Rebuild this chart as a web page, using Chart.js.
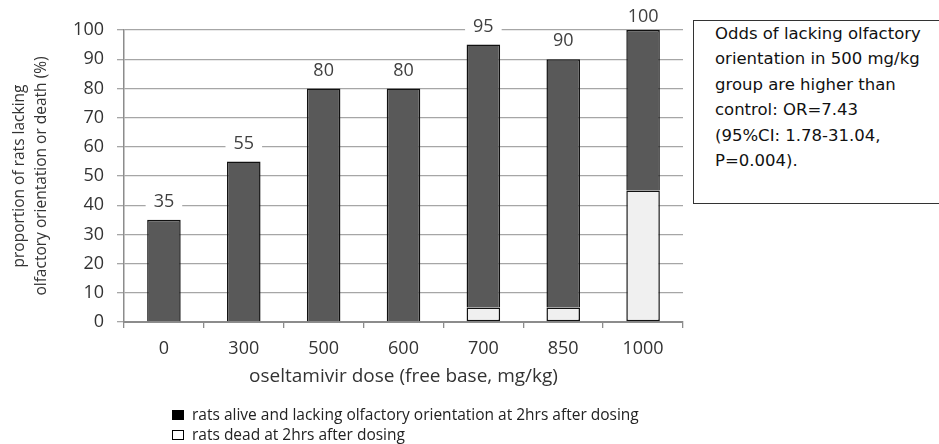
<!DOCTYPE html>
<html>
<head>
<meta charset="utf-8">
<script src="https://cdn.jsdelivr.net/npm/chart.js@4/dist/chart.umd.min.js"></script>
<style>
  body { margin: 0; background: #fff; }
  #wrap { position: relative; width: 939px; height: 444px; overflow: hidden; }
  #note {
    position: absolute; left: 693px; top: 20px; width: 260px; height: 184px;
    border: 1px solid #333; box-sizing: border-box;
    font-family: "DejaVu Sans", sans-serif; font-size: 16.5px; line-height: 25.4px;
    color: #111; padding: 0 0 0 21px; background: #fff;
  }
  #legend {
    position: absolute; left: 172px; top: 404px;
    font-family: "Open Sans", sans-serif; font-size: 15.5px; color: #222; line-height: 20px;
  }
  #legend .sw { display: inline-block; width: 12px; height: 10px; box-sizing: border-box;
    border: 1px solid #000; margin-right: 8px; vertical-align: 0px; }
</style>
</head>
<body>
<div id="wrap">
  <canvas id="chart" width="939" height="444"></canvas>
  <div id="note">Odds of lacking olfactory<br>orientation in 500 mg/kg<br>group are higher than<br>control: OR=7.43<br>(95%CI: 1.78-31.04,<br>P=0.004).</div>
  <div id="legend">
    <div><span class="sw" style="background:#000"></span>rats alive and lacking olfactory orientation at 2hrs after dosing</div>
    <div><span class="sw" style="background:#fff"></span>rats dead at 2hrs after dosing</div>
  </div>
</div>
<script>
const doses = ['0', '300', '500', '600', '700', '850', '1000'];
const deadPct = [0, 0, 0, 0, 5, 5, 45];
const alivePct = [35, 55, 80, 80, 90, 85, 55];
const yTicks = [0, 10, 20, 30, 40, 50, 60, 70, 80, 90, 100];

// totals written above each stack, with a white patch behind the number
const totalLabels = {
  id: 'totalLabels',
  afterDatasetsDraw(chart) {
    const ctx = chart.ctx;
    const topMeta = chart.getDatasetMeta(1);
    ctx.save();
    ctx.font = '18px "Open Sans"';
    ctx.textAlign = 'center';
    ctx.textBaseline = 'middle';
    doses.forEach((d, i) => {
      const total = deadPct[i] + alivePct[i];
      const bar = topMeta.data[i];
      const y = Math.max(bar.y - 18, 17);
      const w = ctx.measureText(String(total)).width + 16;
      ctx.fillStyle = '#fff';
      ctx.fillRect(bar.x - w / 2, y - 9, w, 18);
      ctx.fillStyle = '#404040';
      ctx.fillText(String(total), bar.x, y);
    });
    ctx.restore();
  }
};

new Chart(document.getElementById('chart'), {
  type: 'bar',
  data: {
    labels: doses,
    datasets: [
      {
        label: 'rats dead at 2hrs after dosing',
        data: deadPct,
        backgroundColor: c => (c.raw ? '#f0f0f0' : 'rgba(0,0,0,0)'),
        borderColor: '#111',
        borderWidth: c => (c.raw ? 1.5 : 0),
        borderSkipped: false,
        inflateAmount: 0
      },
      {
        label: 'rats alive and lacking olfactory orientation at 2hrs after dosing',
        data: alivePct,
        backgroundColor: '#595959',
        borderColor: '#111',
        borderWidth: 1.5,
        borderSkipped: 'bottom',
        inflateAmount: 0
      }
    ]
  },
  options: {
    responsive: false,
    animation: false,
    layout: { padding: { top: 30, right: 256, bottom: 0, left: 0 } },
    datasets: { bar: { categoryPercentage: 1, barPercentage: 0.42 } },
    plugins: { legend: { display: false }, tooltip: { enabled: false } },
    scales: {
      x: {
        stacked: true,
        afterFit(scale) { scale.height = 122; },
        grid: { drawOnChartArea: false, drawTicks: true, tickLength: 6, color: '#8c8c8c', lineWidth: 1.3 },
        border: { color: '#8c8c8c', width: 2 },
        ticks: { padding: 10, color: '#333', font: { family: 'Open Sans', size: 18 } },
        title: {
          display: true,
          text: 'oseltamivir dose (free base, mg/kg)',
          color: '#333',
          font: { family: 'Open Sans', size: 19, lineHeight: 1.2 },
          padding: { top: 0, bottom: 56 }
        }
      },
      y: {
        stacked: true,
        min: 0,
        max: 100,
        afterFit(scale) { scale.width = 124; },
        afterBuildTicks(scale) { scale.ticks = yTicks.map(v => ({ value: v })); },
        grid: { color: '#a6a6a6', lineWidth: 1.3, tickLength: 7 },
        border: { color: '#8c8c8c', width: 1.5 },
        ticks: { padding: 13, color: '#333', font: { family: 'Open Sans', size: 18 } },
        title: {
          display: true,
          text: ['proportion of rats lacking', 'olfactory orientation or death (%)'],
          color: '#333',
          font: { family: 'Open Sans', size: 15.5, lineHeight: 1.42 },
          padding: { top: 9, bottom: 0 }
        }
      }
    }
  },
  plugins: [totalLabels]
});
</script>
</body>
</html>
